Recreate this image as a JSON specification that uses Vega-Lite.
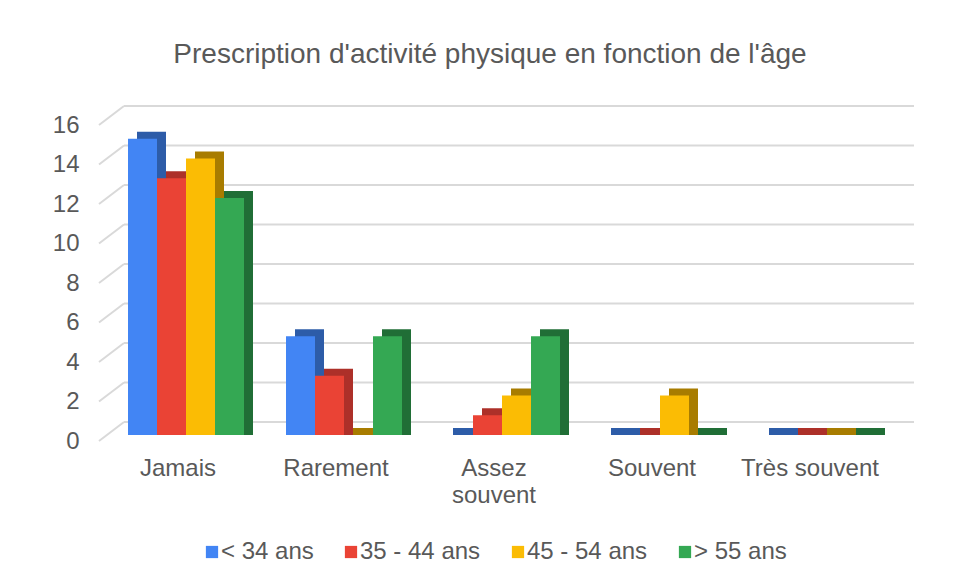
{
  "$schema": "https://vega.github.io/schema/vega-lite/v6.json",
  "autosize": "none",
  "width": 790,
  "height": 316,
  "padding": {"left": 99, "top": 125, "right": 66, "bottom": 140},
  "background": "white",
  "title": {
    "text": "Prescription d'activité physique en fonction de l'âge",
    "fontSize": 28,
    "font": "Liberation Sans",
    "fontWeight": "normal",
    "color": "#595959",
    "anchor": "middle",
    "dx": -4,
    "offset": 36
  },
  "datasets": {
    "counts": [
      {"cat": "Jamais", "series": "< 34 ans", "value": 15},
      {"cat": "Jamais", "series": "35 - 44 ans", "value": 13},
      {"cat": "Jamais", "series": "45 - 54 ans", "value": 14},
      {"cat": "Jamais", "series": "> 55 ans", "value": 12},
      {"cat": "Rarement", "series": "< 34 ans", "value": 5},
      {"cat": "Rarement", "series": "35 - 44 ans", "value": 3},
      {"cat": "Rarement", "series": "45 - 54 ans", "value": 0},
      {"cat": "Rarement", "series": "> 55 ans", "value": 5},
      {"cat": "Assez souvent", "series": "< 34 ans", "value": 0},
      {"cat": "Assez souvent", "series": "35 - 44 ans", "value": 1},
      {"cat": "Assez souvent", "series": "45 - 54 ans", "value": 2},
      {"cat": "Assez souvent", "series": "> 55 ans", "value": 5},
      {"cat": "Souvent", "series": "< 34 ans", "value": 0},
      {"cat": "Souvent", "series": "35 - 44 ans", "value": 0},
      {"cat": "Souvent", "series": "45 - 54 ans", "value": 2},
      {"cat": "Souvent", "series": "> 55 ans", "value": 0},
      {"cat": "Très souvent", "series": "< 34 ans", "value": 0},
      {"cat": "Très souvent", "series": "35 - 44 ans", "value": 0},
      {"cat": "Très souvent", "series": "45 - 54 ans", "value": 0},
      {"cat": "Très souvent", "series": "> 55 ans", "value": 0}
    ],
    "ticks": [
      {"v": 0}, {"v": 2}, {"v": 4}, {"v": 6}, {"v": 8},
      {"v": 10}, {"v": 12}, {"v": 14}, {"v": 16}
    ]
  },
  "layer": [
    {
      "data": {"name": "ticks"},
      "mark": {"type": "rule", "color": "#D9D9D9", "strokeWidth": 2, "xOffset": 25, "x2Offset": 25, "yOffset": -19},
      "encoding": {
        "x": {"datum": "Jamais", "type": "nominal", "bandPosition": 0},
        "x2": {"datum": "Très souvent", "bandPosition": 1},
        "y": {"field": "v", "type": "quantitative"}
      }
    },
    {
      "data": {"name": "ticks"},
      "mark": {"type": "rule", "color": "#D9D9D9", "strokeWidth": 2, "x2Offset": 25, "y2Offset": -19},
      "encoding": {
        "x": {"datum": "Jamais", "type": "nominal", "bandPosition": 0},
        "x2": {"datum": "Jamais", "bandPosition": 0},
        "y": {"field": "v", "type": "quantitative"},
        "y2": {"field": "v"}
      }
    },
    {
      "data": {"name": "counts"},
      "mark": {"type": "bar", "yOffset": -13, "y2Offset": -6},
      "encoding": {
        "x": {"field": "cat", "type": "nominal"},
        "xOffset": {
          "field": "series", "type": "nominal",
          "sort": ["< 34 ans", "35 - 44 ans", "45 - 54 ans", "> 55 ans"],
          "scale": {"range": [38, 154], "paddingInner": 0, "paddingOuter": 0}
        },
        "y": {"field": "value", "type": "quantitative", "stack": null},
        "y2": {"datum": 0},
        "color": {
          "field": "series", "type": "nominal",
          "scale": {"domain": ["< 34 ans", "35 - 44 ans", "45 - 54 ans", "> 55 ans"], "range": ["#2D5CA8", "#AD3029", "#A87C00", "#206E36"]},
          "legend": null
        }
      }
    },
    {
      "data": {"name": "counts"},
      "mark": {"type": "bar", "yOffset": -6, "y2Offset": -6},
      "encoding": {
        "x": {"field": "cat", "type": "nominal"},
        "xOffset": {
          "field": "series", "type": "nominal",
          "sort": ["< 34 ans", "35 - 44 ans", "45 - 54 ans", "> 55 ans"],
          "scale": {"range": [29, 145], "paddingInner": 0, "paddingOuter": 0}
        },
        "y": {"field": "value", "type": "quantitative", "stack": null},
        "y2": {"datum": 0},
        "color": {
          "field": "series", "type": "nominal",
          "scale": {"domain": ["< 34 ans", "35 - 44 ans", "45 - 54 ans", "> 55 ans"], "range": ["#4285F4", "#EA4335", "#FBBC04", "#34A853"]},
          "legend": {
            "title": null,
            "orient": "none",
            "legendX": 101,
            "legendY": 415,
            "direction": "horizontal",
            "symbolType": "square",
            "symbolSize": 150,
            "symbolStrokeWidth": 0,
            "labelFontSize": 24,
            "labelFont": "Liberation Sans",
            "labelColor": "#595959",
            "labelOffset": -3,
            "columnPadding": 25
          }
        }
      }
    }
  ],
  "encoding": {
    "x": {
      "scale": {"domain": ["Jamais", "Rarement", "Assez souvent", "Souvent", "Très souvent"], "paddingInner": 0, "paddingOuter": 0},
      "axis": {
        "title": null, "domain": false, "ticks": false, "grid": false,
        "labelAngle": 0,
        "labelPadding": 15, "labelFontSize": 24, "labelFont": "Liberation Sans", "labelColor": "#595959",
        "labelLineHeight": 27,
        "labelExpr": "datum.value == 'Assez souvent' ? ['Assez', 'souvent'] : datum.label"
      }
    },
    "y": {
      "scale": {"domain": [0, 16], "nice": false},
      "axis": {
        "title": null, "domain": false, "ticks": false, "grid": false,
        "values": [0, 2, 4, 6, 8, 10, 12, 14, 16],
        "labelPadding": 20, "labelFontSize": 24, "labelFont": "Liberation Sans", "labelColor": "#595959"
      }
    }
  },
  "resolve": {"scale": {"color": "independent", "xOffset": "independent"}},
  "config": {"view": {"stroke": null}}
}
